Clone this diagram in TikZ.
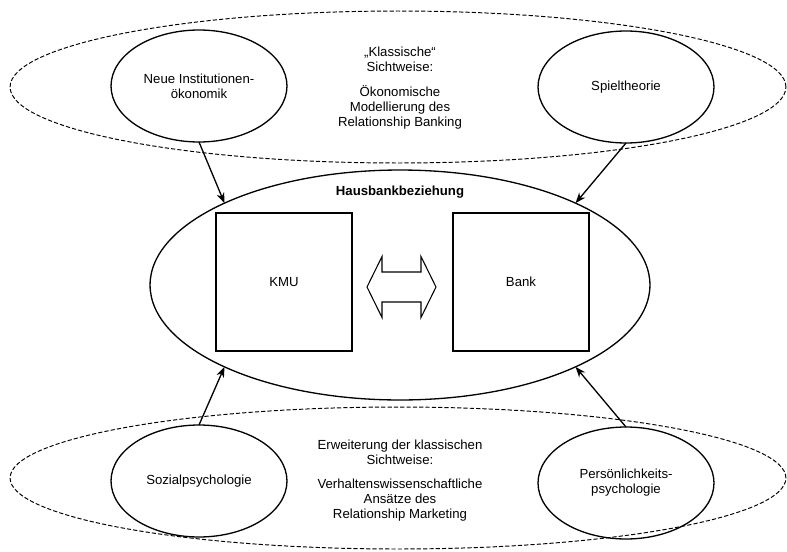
\documentclass[tikz,border=0pt]{standalone}
\usepackage{fontspec}
\setmainfont{Liberation Sans}
\usetikzlibrary{arrows.meta,shapes.geometric}

\begin{document}
\begin{tikzpicture}[>={Stealth[length=6pt, width=4.5pt]}, x=0.02cm, y=-0.02cm,
    every node/.style={font=\fontsize{7.5}{8.6}\selectfont, align=center},
    field/.style={draw, ellipse, line width=0.75pt, minimum width=3.52cm, minimum height=2.24cm, inner sep=0pt, outer sep=0pt},
    partner/.style={draw, line width=0.6pt, minimum width=2.72cm, minimum height=2.76cm},
    view/.style={draw, dash pattern=on 2.4pt off 1.2pt, line width=0.55pt}]
    \useasboundingbox (0,0) rectangle (787,551);
    \draw [view] (398,87) ellipse [x radius=7.76cm, y radius=1.52cm];
    \draw [view] (398,478) ellipse [x radius=7.76cm, y radius=1.42cm];
    \node [draw, ellipse, line width=0.75pt, minimum width=10cm, minimum height=4.6cm, inner sep=0pt, outer sep=0pt] (haus) at (400,285) {};
    \node [font=\fontsize{7.5}{8.6}\selectfont\bfseries] (hauslabel) at (400,192) {Hausbankbeziehung};
    \node [partner] (kmu) at (284,282) {KMU};
    \node [partner] (bank) at (521,282) {Bank};
    \draw [line width=0.6pt, shift={(401.5,287)}] (-34.5,0) -- (-19.5,-30.5) -- (-19.5,-15) -- (19.5,-15) -- (19.5,-30.5) -- (34.5,0) -- (19.5,30.5) -- (19.5,15) -- (-19.5,15) -- (-19.5,30.5) -- cycle;
    \node [field] (nie) at (199,86) {Neue Institutionen-\\ökonomik};
    \node [field] (spiel) at (626,87) {Spieltheorie};
    \node [field] (sozial) at (199,481) {Sozialpsychologie};
    \node [field] (pers) at (626,483) {Persönlichkeits-\\psychologie};
    \node (klassisch) at (400,59.5) {„Klassische“\\Sichtweise:};
    \node (banking) at (400,107) {Ökonomische\\Modellierung des\\Relationship Banking};
    \node (erweitert) at (400,452.5) {Erweiterung der klassischen\\Sichtweise:};
    \node (marketing) at (400,500) {Verhaltenswissenschaftliche\\Ansätze des\\Relationship Marketing};
    \draw [->, line width=0.75pt] (nie.south) -- (haus.155);
    \draw [->, line width=0.75pt] (spiel.south) -- (haus.25);
    \draw [->, line width=0.75pt] (sozial.north) -- (haus.205);
    \draw [->, line width=0.75pt] (pers.north) -- (haus.335);
\end{tikzpicture}
\end{document}
